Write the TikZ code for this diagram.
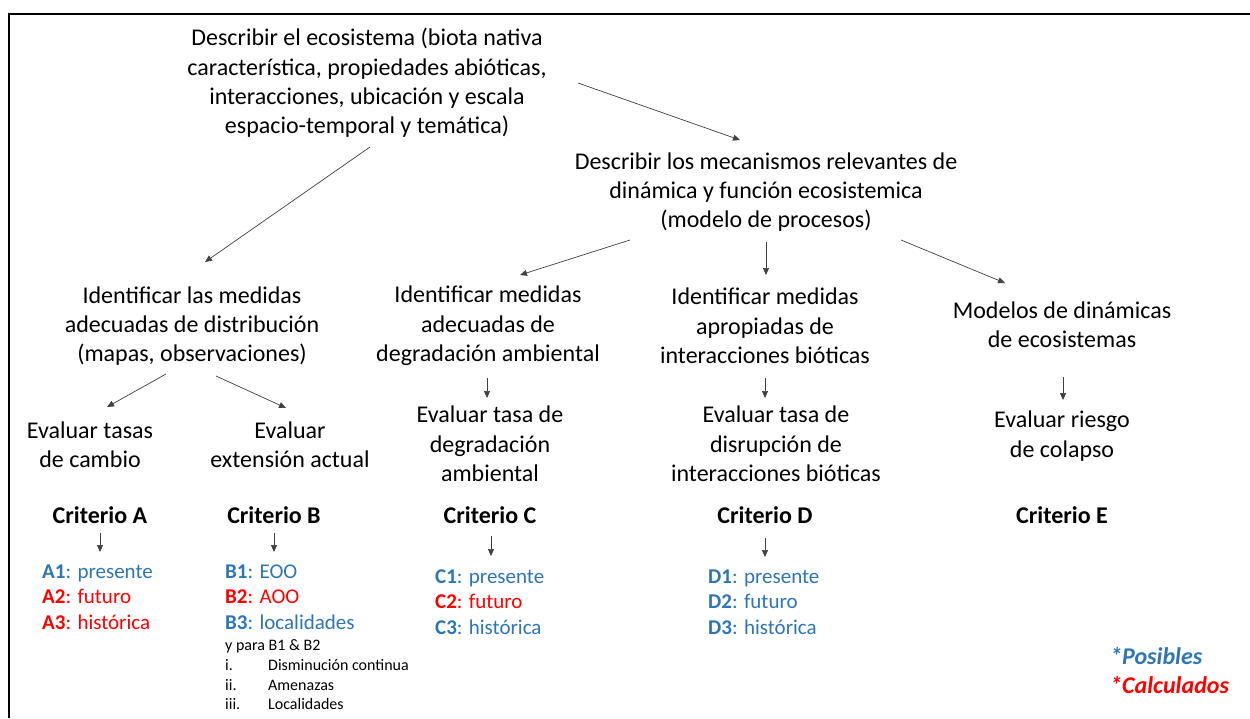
\documentclass[tikz,border=0pt]{standalone}
\usepackage{fontspec}
\setmainfont{Carlito}
\usetikzlibrary{arrows.meta}
\definecolor{posible}{RGB}{46,117,182}
\definecolor{calculado}{RGB}{255,0,0}

\begin{document}
\begin{tikzpicture}[x=1pt,y=-1pt]
        \tikzstyle{texto}=[align=center,inner sep=0pt,font=\fontsize{24}{29.3}\selectfont]
        \tikzstyle{crit}=[inner sep=0pt,font=\fontsize{24}{29.3}\selectfont\bfseries]
        \tikzstyle{lista}=[align=left,anchor=west,inner sep=0pt,font=\fontsize{21}{25.6}\selectfont]
        \tikzstyle{sub}=[align=left,anchor=west,inner sep=0pt,font=\fontsize{16}{19.7}\selectfont]
        \tikzstyle{edge}=[line width=0.7pt,black!75,-{Triangle[length=7pt,width=6pt]}]
        \useasboundingbox (0,0) rectangle (1250,718);
        \draw[line width=2pt] (9,718) -- (9,14) -- (1250,14);
       \begin{scope}
         \node [texto] (eco) at (367,83) {Describir el ecosistema (biota nativa\\característica, propiedades abióticas,\\interacciones, ubicación y escala\\espacio-temporal y temática)};
         \node [texto] (meca) at (766,192) {Describir los mecanismos relevantes de\\dinámica y función ecosistemica\\(modelo de procesos)};

         \node [texto] (dist) at (192,326) {Identificar las medidas\\adecuadas de distribución\\(mapas, observaciones)};
         \node [texto] (degr) at (488,326) {Identificar medidas\\adecuadas de\\degradación ambiental};
         \node [texto] (inter) at (765,326) {Identificar medidas\\apropiadas de\\interacciones bióticas};
         \node [texto] (model) at (1062,325) {Modelos de dinámicas\\de ecosistemas};

         \node [texto] (tasas) at (90,445) {Evaluar tasas\\de cambio};
         \node [texto] (ext) at (290,445) {Evaluar\\extensión actual};
         \node [texto] (evalC) at (490,444) {Evaluar tasa de\\degradación\\ambiental};
         \node [texto] (evalD) at (776,444) {Evaluar tasa de\\disrupción de\\interacciones bióticas};
         \node [texto] (evalE) at (1062,436) {Evaluar riesgo\\de colapso};

         \node [crit] (critA) at (100,515) {Criterio A};
         \node [crit] (critB) at (274,515) {Criterio B};
         \node [crit] (critC) at (490,515) {Criterio C};
         \node [crit] (critD) at (765,515) {Criterio D};
         \node [crit] (critE) at (1062,515) {Criterio E};

         \node [lista] (lstA) at (42,597) {\textcolor{posible}{\textbf{A1}: presente}\\\textcolor{calculado}{\textbf{A2}: futuro}\\\textcolor{calculado}{\textbf{A3}: histórica}};
         \node [lista] (lstB) at (225,597) {\textcolor{posible}{\textbf{B1}: EOO}\\\textcolor{calculado}{\textbf{B2}: AOO}\\\textcolor{posible}{\textbf{B3}: localidades}};
         \node [sub] (subB) at (225,675) {y para B1 \& B2\\\makebox[43pt][l]{i.}Disminución continua\\\makebox[43pt][l]{ii.}Amenazas\\\makebox[43pt][l]{iii.}Localidades};
         \node [lista] (lstC) at (435,602) {\textcolor{posible}{\textbf{C1}: presente}\\\textcolor{calculado}{\textbf{C2}: futuro}\\\textcolor{posible}{\textbf{C3}: histórica}};
         \node [lista] (lstD) at (708,602) {\textcolor{posible}{\textbf{D1}: presente}\\\textcolor{posible}{\textbf{D2}: futuro}\\\textcolor{posible}{\textbf{D3}: histórica}};
         \node [lista,font=\fontsize{24}{29}\selectfont\bfseries\itshape] (ley) at (1110,671) {\textcolor{posible}{*Posibles}\\\textcolor{calculado}{*Calculados}};

         \draw[edge] ([shift={(3,64)}]eco.center) -- ([shift={(13,-64)}]dist.center);
         \draw[edge] ([shift={(211,0)}]eco.center) -- ([shift={(-26,-52)}]meca.center);
         \draw[edge] ([shift={(-136,48)}]meca.center) -- ([shift={(32,-51)}]degr.center);
         \draw[edge] ([shift={(0,50)}]meca.center) -- ([shift={(1,-51)}]inter.center);
         \draw[edge] ([shift={(135,48)}]meca.center) -- ([shift={(-57,-42)}]model.center);

         \draw[edge] ([shift={(-26,48)}]dist.center) -- ([shift={(17,-38)}]tasas.center);
         \draw[edge] ([shift={(24,50)}]dist.center) -- ([shift={(-4,-37)}]ext.center);
         \draw[edge] ([shift={(-1,52)}]degr.center) -- ([shift={(-3,-46)}]evalC.center);
         \draw[edge] ([shift={(0,52)}]inter.center) -- ([shift={(-11,-46)}]evalD.center);
         \draw[edge] ([shift={(1,52)}]model.center) -- ([shift={(1,-36)}]evalE.center);

         \draw[edge] ([shift={(0,18)}]critA.center) -- ([shift={(58,-45)}]lstA.west);
         \draw[edge] ([shift={(0,18)}]critB.center) -- ([shift={(49,-45)}]lstB.west);
         \draw[edge] ([shift={(1,21)}]critC.center) -- ([shift={(56,-46)}]lstC.west);
         \draw[edge] ([shift={(0,23)}]critD.center) -- ([shift={(57,-45)}]lstD.west);
        \end{scope}
      \end{tikzpicture}
\end{document}
